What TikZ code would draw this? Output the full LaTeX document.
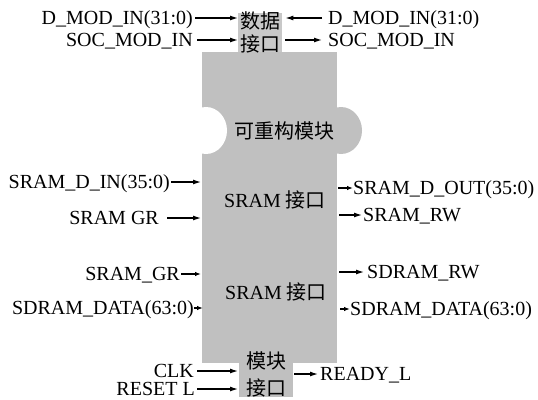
\documentclass[tikz,border=0pt]{standalone}
\usepackage{fontspec}
\setmainfont{Liberation Serif}
\newfontfamily\cjk{Noto Sans CJK SC}
\usetikzlibrary{arrows.meta}
\definecolor{blockgray}{RGB}{192,192,192}
\definecolor{boxgray}{RGB}{200,200,200}
\begin{document}
\begin{tikzpicture}[x=1pt,y=-1pt,
  font=\fontsize{20}{23}\selectfont,
  lab/.style={inner sep=0pt, text height=13.2pt, text depth=0pt},
  cn/.style={inner sep=0pt, font=\fontsize{20}{23}\selectfont\cjk},
  arr/.style={line width=1.2pt, -{Latex[length=8pt,width=5pt]}},
  sarr/.style={line width=1.2pt, -{Latex[length=6pt,width=4.5pt]}}]
\useasboundingbox (0,0) rectangle (538,399);
% main block with puzzle bump and notch
\node[fill=blockgray, inner sep=0pt, minimum width=135pt, minimum height=311pt, anchor=north west] (main) at (202,52) {};
\fill[blockgray] (341,130.5) ellipse [x radius=21, y radius=23.5];
\fill[white] (206,130.5) ellipse [x radius=21, y radius=23.5];
% interface boxes
\node[fill=boxgray, inner sep=0pt, minimum width=44pt, minimum height=39pt, anchor=north west] (dbox) at (238,13) {};
\node[fill=blockgray, inner sep=0pt, minimum width=54pt, minimum height=47pt, anchor=north west] (mbox) at (239,350) {};
% inner texts
\node[cn] (d1) at (260,21) {数据};
\node[cn] (d2) at (260,44) {接口};
\node[cn] (m1) at (266,361) {模块};
\node[cn] (m2) at (266,388) {接口};
\node[cn] (recon) at (284,131) {可重构模块};
\node[inner sep=0pt] (s1) at (275,200) {SRAM\ {\cjk 接口}};
\node[inner sep=0pt] (s2) at (276,292) {SRAM {\cjk 接口}};
% top labels
\node[lab, anchor=east] (tl1) at (193,18) {D\_MOD\_IN(31:0)};
\node[lab, anchor=east] (tl2) at (193,40) {SOC\_MOD\_IN};
\node[lab, anchor=west] (tr1) at (328,18) {D\_MOD\_IN(31:0)};
\node[lab, anchor=west] (tr2) at (328,40) {SOC\_MOD\_IN};
\draw[arr] ([xshift=2pt]tl1.east) -- (tl1.east -| dbox.west);
\draw[arr] ([xshift=4pt]tl2.east) -- (tl2.east -| dbox.west);
\draw[arr] ([xshift=-6pt]tr1.west) -- ([xshift=3pt]tr1.west -| dbox.east);
\draw[arr] ([xshift=3pt]tr2.west -| dbox.east) -- ([xshift=-6pt]tr2.west);
% left middle labels
\node[lab, anchor=east] (ml1) at (170,182) {SRAM\_D\_IN(35:0)};
\node[lab, anchor=east] (ml2) at (159,218) {SRAM GR};
\node[lab, anchor=east] (ml3) at (180,274) {SRAM\_GR};
\node[lab, anchor=east] (ml4) at (194,308) {SDRAM\_DATA(63:0)};
\draw[arr] ([xshift=1pt]ml1.east) -- ([xshift=-1pt]ml1.east -| main.west);
\draw[arr] ([xshift=8pt]ml2.east) -- ([xshift=-1pt]ml2.east -| main.west);
\draw[sarr] ([xshift=1pt]ml3.east) -- ([xshift=-1pt]ml3.east -| main.west);
\draw[sarr] ([xshift=0pt]ml4.east) -- ([xshift=1pt]ml4.east -| main.west);
% right middle labels
\node[lab, anchor=west] (mr1) at (353,188) {SRAM\_D\_OUT(35:0)};
\node[lab, anchor=west] (mr2) at (363,215) {SRAM\_RW};
\node[lab, anchor=west] (mr3) at (367,272) {SDRAM\_RW};
\node[lab, anchor=west] (mr4) at (350,309) {SDRAM\_DATA(63:0)};
\draw[sarr] ([xshift=1pt]mr1.west -| main.east) -- (mr1.west);
\draw[arr] ([xshift=2pt]mr2.west -| main.east) -- ([xshift=-1pt]mr2.west);
\draw[arr] ([xshift=2pt]mr3.west -| main.east) -- ([xshift=-3pt]mr3.west);
\draw[sarr] ([xshift=3pt]mr4.west -| main.east) -- (mr4.west);
% bottom labels
\node[lab, anchor=east] (bl1) at (194,371) {CLK};
\node[lab, anchor=east] (bl2) at (195,389) {RESET L};
\node[lab, anchor=west] (br1) at (320,374) {READY\_L};
\draw[arr] ([xshift=3pt]bl1.east) -- ([xshift=-1pt]bl1.east -| mbox.west);
\draw[arr] ([xshift=2pt]bl2.east) -- ([xshift=-1pt]bl2.east -| mbox.west);
\draw[arr] ([xshift=1pt]br1.west -| mbox.east) -- ([xshift=-2pt]br1.west);
\end{tikzpicture}
\end{document}
